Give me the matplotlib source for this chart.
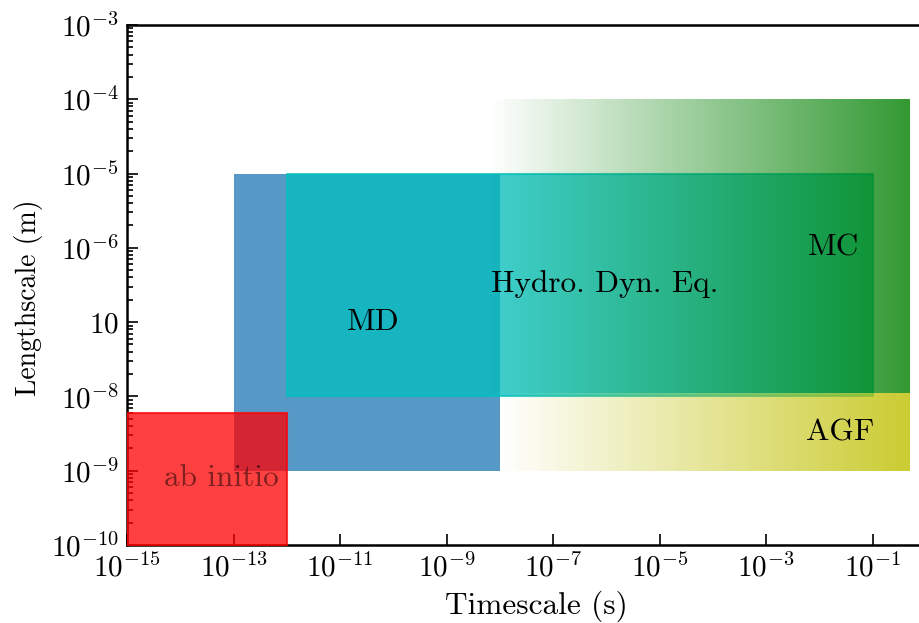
import numpy as np
import matplotlib
matplotlib.use("Agg")
import matplotlib.pyplot as plt
from matplotlib.colors import LinearSegmentedColormap

plt.rcParams["font.family"] = "serif"
plt.rcParams["font.serif"] = ["cmr10"]
plt.rcParams["mathtext.fontset"] = "cm"
plt.rcParams["axes.formatter.use_mathtext"] = True
plt.rcParams["font.size"] = 21

# Method regions: (t_min, t_max) in seconds, (l_min, l_max) in metres
abinitio_t = [1e-15, 1e-12]
abinitio_l = [1e-10, 6e-9]
md_t = [1e-13, 1e-8]
md_l = [1e-9, 1e-5]
hydro_t = [1e-12, 1e-1]
hydro_l = [1e-8, 1e-5]
mc_t = [6e-9, 0.5]
mc_l = [1.1e-8, 1e-4]
agf_t = [1e-8, 0.5]
agf_l = [1e-9, 1.1e-8]

# Label text and anchor (time, length)
labels = ["ab initio", "MD", "Hydro. Dyn. Eq.", "MC", "AGF"]
label_t = [10**-13.22, 10**-10.38, 10**-6.03, 10**-1.73, 10**-1.62]
label_l = [10**-9.1, 1e-7, 10**-6.49, 1e-6, 10**-8.48]

xticks = [1e-15, 1e-13, 1e-11, 1e-9, 1e-7, 1e-5, 1e-3, 1e-1]
xticklabels = [r"$10^{-15}$", r"$10^{-13}$", r"$10^{-11}$", r"$10^{-9}$",
               r"$10^{-7}$", r"$10^{-5}$", r"$10^{-3}$", r"$10^{-1}$"]
yticks = [1e-10, 1e-9, 1e-8, 1e-7, 1e-6, 1e-5, 1e-4, 1e-3]
yticklabels = [r"$10^{-10}$", r"$10^{-9}$", r"$10^{-8}$", r"$10$",
               r"$10^{-6}$", r"$10^{-5}$", r"$10^{-4}$", r"$10^{-3}$"]

fig = plt.figure(figsize=(9.19, 6.23), dpi=100)
ax = fig.add_axes([0.1382, 0.1252, 0.8694, 0.8347])
ax.set_xscale("log")
ax.set_yscale("log")
ax.set_xlim(1e-15, 1)
ax.set_ylim(1e-10, 1e-3)


def box(t, l, **kw):
    ax.fill_between(t, l[0], l[1], **kw)


def gradient_box(t, l, rgb, alpha_max, z):
    n = 400
    xe = np.logspace(np.log10(t[0]), np.log10(t[1]), n + 1)
    ye = np.array(l)
    c = np.linspace(0, 1, n).reshape(1, n)
    cmap = LinearSegmentedColormap.from_list(
        "ramp", [(*rgb, 0.0), (*rgb, alpha_max)])
    ax.pcolormesh(xe, ye, c, cmap=cmap, vmin=0, vmax=1, shading="flat",
                  edgecolors="none", linewidth=0, antialiased=False, zorder=z)


box(md_t, md_l, color="#1f77b4", alpha=0.75, linewidth=0, zorder=1)
box(abinitio_t, abinitio_l, facecolor="red", edgecolor="red", alpha=0.75,
    linewidth=1.5, zorder=3)
box(hydro_t, hydro_l, facecolor=(0, 0.75, 0.75), edgecolor=(0, 0.75, 0.75),
    alpha=0.75, linewidth=1.5, zorder=4)
gradient_box(mc_t, mc_l, (0, 0.5, 0), 0.8, 5)
gradient_box(agf_t, agf_l, (0.75, 0.75, 0), 0.8, 5)

ax.text(label_t[0], label_l[0], labels[0], ha="center", va="center",
        color="black", alpha=0.5, fontsize=22.5, zorder=6)
for s, t, l in zip(labels[1:], label_t[1:], label_l[1:]):
    ax.text(t, l, s, ha="center", va="center", color="black", fontsize=22.5,
            zorder=6)

ax.set_xticks(xticks)
ax.set_xticklabels(xticklabels)
ax.xaxis.set_minor_locator(matplotlib.ticker.NullLocator())
ax.set_yticks(yticks)
ax.set_yticklabels(yticklabels)
ax.tick_params(which="both", direction="in", top=False, right=False,
               labelsize=21, width=1.2)
ax.tick_params(which="major", length=8, pad=6)
ax.tick_params(which="minor", length=4)
for sp in ax.spines.values():
    sp.set_linewidth(1.8)

ax.set_xlabel("Timescale (s)", fontsize=22.5)
ax.set_ylabel("Lengthscale (m)", fontsize=20)
ax.xaxis.set_label_coords(0.512, -0.087)
ax.yaxis.set_label_coords(-0.105, 0.476)

fig.savefig("out.png", dpi=100)
